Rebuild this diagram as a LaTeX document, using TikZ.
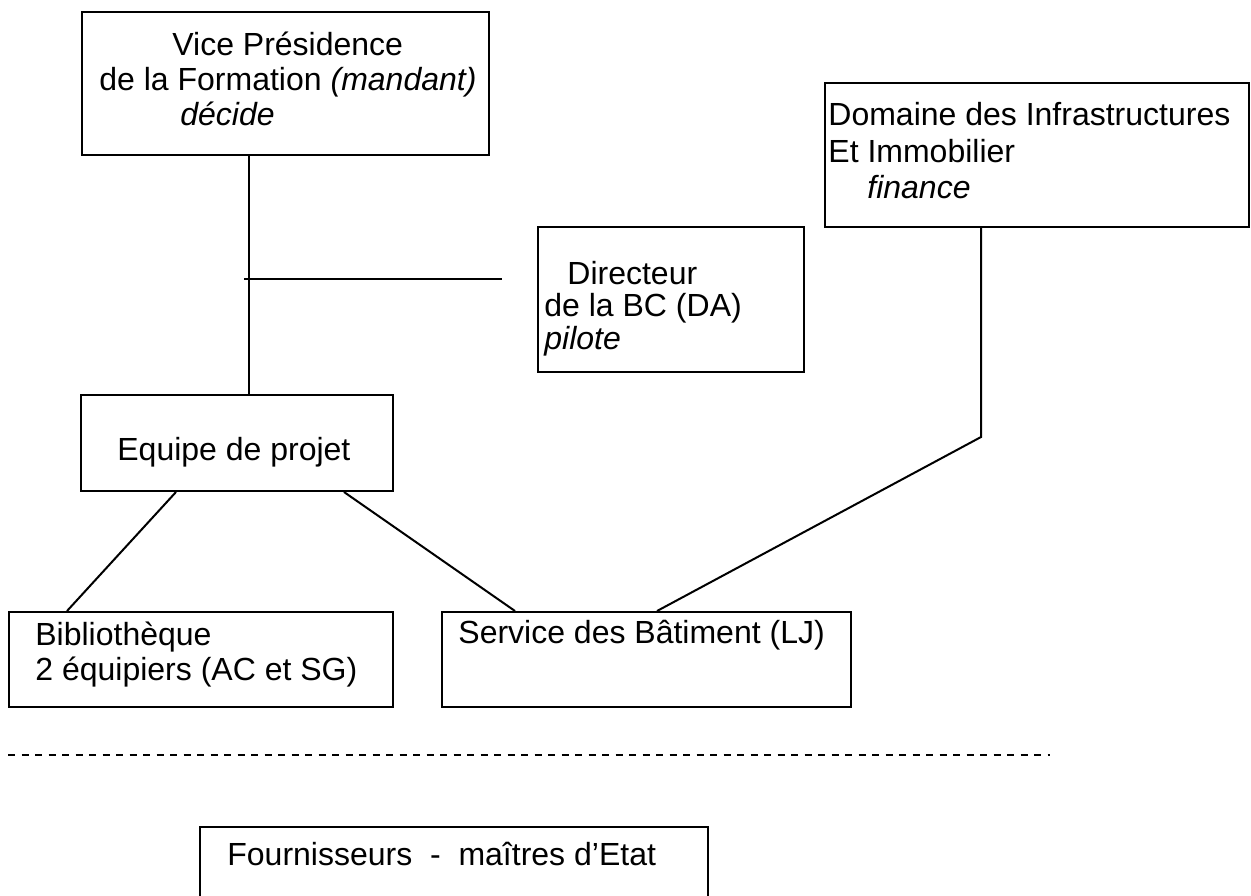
\documentclass[tikz,border=0pt]{standalone}
\usepackage{fontspec}
\setmainfont{Liberation Sans}
\usetikzlibrary{fit}
\begin{document}
\begin{tikzpicture}[x=0.5pt,y=-0.5pt,
  box/.style={draw=black,line width=1pt,rectangle,inner sep=0pt},
  txt/.style={anchor=base west,inner sep=0pt,font=\fontsize{16pt}{19pt}\selectfont},
  conn/.style={draw=black,line width=1pt}]
\useasboundingbox (0,0) rectangle (1251,895);
\clip (0,0) rectangle (1251,895);
% boxes
\node[box,fit={(82,12) (489,155)}] (vp) {};
\node[box,fit={(825,83) (1249,227)}] (dom) {};
\node[box,fit={(538,227) (804,372)}] (dir) {};
\node[box,fit={(81,395) (393,491)}] (eq) {};
\node[box,fit={(9,612) (393,707)}] (bib) {};
\node[box,fit={(442,612) (851,707)}] (svc) {};
\node[box,fit={(200,827) (708,910)}] (four) {};
% texts
\node[txt] (vp1) at (172,55) {Vice Présidence};
\node[txt] (vp2) at (99,90) {de la Formation \textit{(mandant)}};
\node[txt] (vp3) at (180,125) {\textit{décide}};
\node[txt] (dom1) at (828,125) {Domaine des Infrastructures};
\node[txt] (dom2) at (828,162) {Et Immobilier};
\node[txt] (dom3) at (867,198) {\textit{finance}};
\node[txt] (dir1) at (567,284) {Directeur};
\node[txt] (dir2) at (544,316) {de la BC (DA)};
\node[txt] (dir3) at (544,349) {\textit{pilote}};
\node[txt] (eq1) at (117,460) {Equipe de projet};
\node[txt] (bib1) at (35,645) {Bibliothèque};
\node[txt] (bib2) at (35,680) {2 équipiers (AC et SG)};
\node[txt] (svc1) at (458,643) {Service des Bâtiment (LJ)};
\node[txt] (four1) at (227,865) {Fournisseurs\ \ -\ \ maîtres d’Etat};
% connectors
\coordinate (vx) at (249,0);
\draw[conn] (vx |- vp.south) -- (vx |- eq.north);
\coordinate (h1) at (244,279);
\coordinate (h2) at (502,279);
\draw[conn] (h1) -- (h2);
\coordinate (dx) at (981,0);
\coordinate (dk) at (981,437);
\draw[conn] (dx |- dom.south) -- (dk) -- ([xshift=108pt]svc.north west);
\draw[conn] ([xshift=48pt]eq.south west) -- ([xshift=29.5pt]bib.north west);
\draw[conn] ([xshift=132pt]eq.south west) -- ([xshift=37pt]svc.north west);
\coordinate (d1) at (8,755);
\coordinate (d2) at (1050,755);
\draw[line width=1pt,dash pattern=on 3.5pt off 3.25pt] (d1) -- (d2);
\end{tikzpicture}
\end{document}
